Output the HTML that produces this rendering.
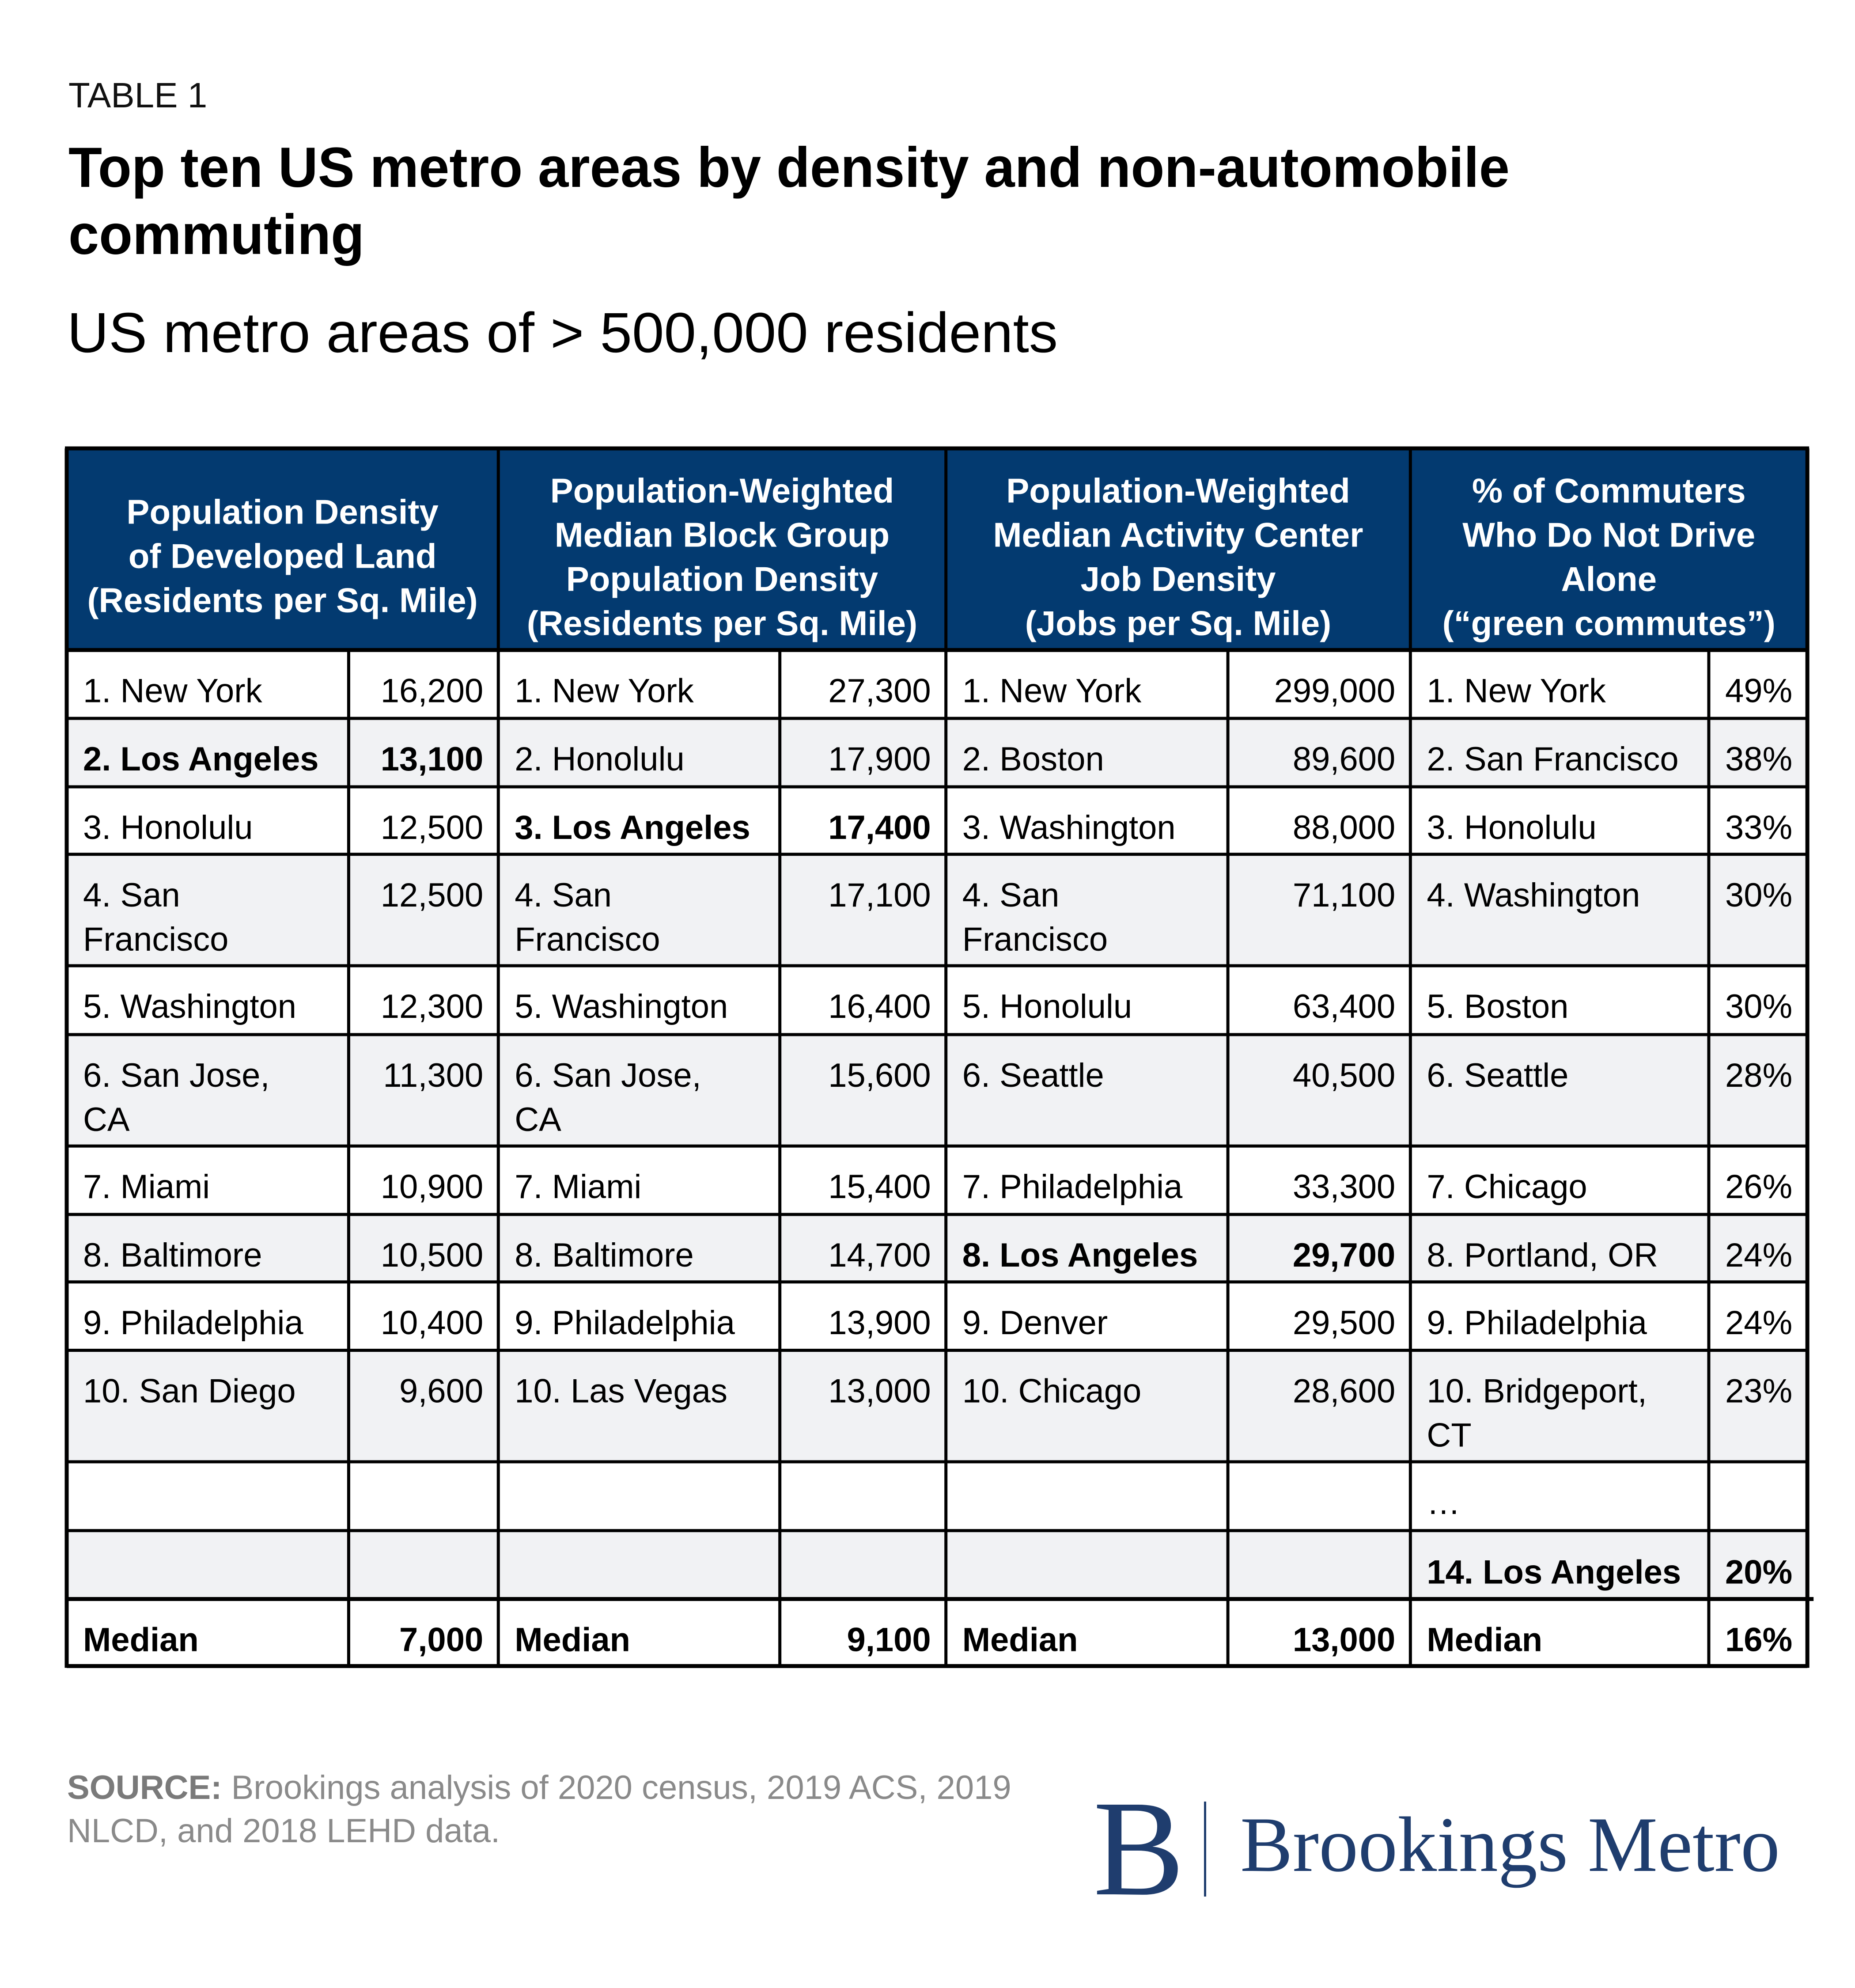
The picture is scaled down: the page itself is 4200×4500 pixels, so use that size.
<!DOCTYPE html>
<html><head><meta charset="utf-8">
<style>
html,body{margin:0;padding:0;background:#fff;}
svg{display:block;}
text{font-family:"Liberation Sans",Arial,sans-serif;}
.serif{font-family:"Liberation Serif",serif;}
</style></head>
<body>
<svg id="chart" width="4200" height="4500" viewBox="0 0 4200 4500" xmlns="http://www.w3.org/2000/svg">
  <rect x="0" y="0" width="4200" height="4500" fill="#fff"/>
  <text x="155" y="243" font-size="80" fill="#111">TABLE 1</text>
  <text x="155" y="423" font-size="128" font-weight="bold" fill="#000" textLength="3263" lengthAdjust="spacingAndGlyphs">Top ten US metro areas by density and non-automobile</text>
  <text x="155" y="575" font-size="128" font-weight="bold" fill="#000" textLength="670" lengthAdjust="spacingAndGlyphs">commuting</text>
  <text x="152" y="797" font-size="128" fill="#000" textLength="2243" lengthAdjust="spacingAndGlyphs">US metro areas of &gt; 500,000 residents</text>
  <g id="table"></g>
  <text x="152" y="4072" font-size="76" fill="#8a8a8a"><tspan font-weight="bold" fill="#7a7a7a">SOURCE:</tspan> Brookings analysis of 2020 census, 2019 ACS, 2019</text>
  <text x="152" y="4170" font-size="76" fill="#8a8a8a">NLCD, and 2018 LEHD data.</text>
  <g>
    <text class="serif" x="2475" y="4288" font-size="310" fill="#1f3d6e">B</text>
    <rect x="2726" y="4078" width="5" height="215" fill="#1f3d6e"/>
    <text class="serif" x="2808" y="4235" font-size="178" fill="#1f3d6e" textLength="1222" lengthAdjust="spacingAndGlyphs">Brookings Metro</text>
  </g>
</svg>
<script>
const headers = [
  ["Population Density","of Developed Land","(Residents per Sq. Mile)"],
  ["Population-Weighted","Median Block Group","Population Density","(Residents per Sq. Mile)"],
  ["Population-Weighted","Median Activity Center","Job Density","(Jobs per Sq. Mile)"],
  ["% of Commuters","Who Do Not Drive","Alone","(\u201Cgreen commutes\u201D)"]
];
const names1 = ["1. New York","2. Los Angeles","3. Honolulu","4. San|Francisco","5. Washington","6. San Jose,|CA","7. Miami","8. Baltimore","9. Philadelphia","10. San Diego","",""];
const values1 = ["16,200","13,100","12,500","12,500","12,300","11,300","10,900","10,500","10,400","9,600","",""];
const names2 = ["1. New York","2. Honolulu","3. Los Angeles","4. San|Francisco","5. Washington","6. San Jose,|CA","7. Miami","8. Baltimore","9. Philadelphia","10. Las Vegas","",""];
const values2 = ["27,300","17,900","17,400","17,100","16,400","15,600","15,400","14,700","13,900","13,000","",""];
const names3 = ["1. New York","2. Boston","3. Washington","4. San|Francisco","5. Honolulu","6. Seattle","7. Philadelphia","8. Los Angeles","9. Denver","10. Chicago","",""];
const values3 = ["299,000","89,600","88,000","71,100","63,400","40,500","33,300","29,700","29,500","28,600","",""];
const names4 = ["1. New York","2. San Francisco","3. Honolulu","4. Washington","5. Boston","6. Seattle","7. Chicago","8. Portland, OR","9. Philadelphia","10. Bridgeport,|CT","\u2026","14. Los Angeles"];
const values4 = ["49%","38%","33%","30%","30%","28%","26%","24%","24%","23%","","20%"];
const medians = ["7,000","9,100","13,000","16%"];

const NS = "http://www.w3.org/2000/svg";
const g = document.getElementById("table");
const SX = x => 151 + (x-151)*1.0054;
const SY = y => 1015 + (y-1009)*1.0052;
const colX = [151, 786, 1123, 1757, 2131, 2766, 3177, 3849, 4071].map(SX);
const rowY = [1463,1617,1771,1923,2174,2329,2580,2734,2886,3040,3291,3446,3600,3751].map(SY);
const tableTop = SY(1009);
const shaded = [false,true,false,true,false,true,false,true,false,true,false,true,false];
function el(tag, attrs){ const e=document.createElementNS(NS,tag); for(const k in attrs) e.setAttribute(k,attrs[k]); g.appendChild(e); return e; }

const hb = el("rect",{x:colX[0],y:tableTop,width:colX[8]-colX[0],height:rowY[0]-tableTop,fill:"#033a70"});


for(let r=0;r<13;r++){
  const rr = el("rect",{x:colX[0],y:rowY[r],width:colX[8]-colX[0],height:rowY[r+1]-rowY[r],fill:shaded[r]?"#f1f2f4":"#ffffff"});
  
  
}
headers.forEach((lines,i)=>{
  const cx=(colX[i*2]+colX[i*2+2])/2;
  const startC = lines.length===3 ? SY(1151) : SY(1103);
  lines.forEach((ln,j)=>{
    const t = el("text",{x:cx,y:startC+j*100+28,"font-size":78,"font-weight":"bold",fill:"#fff","text-anchor":"middle"});
    t.textContent=ln;
    
    
  });
});
const nameCols=[names1,names2,names3,names4], valCols=[values1,values2,values3,values4];
const boldSet = {"2. Los Angeles":1,"3. Los Angeles":1,"8. Los Angeles":1,"14. Los Angeles":1};
for(let c=0;c<4;c++){
  for(let r=0;r<13;r++){
    let nm, vl, bold;
    if(r<12){ nm=nameCols[c][r]; vl=valCols[c][r]; bold=!!boldSet[nm]; }
    else { nm="Median"; vl=medians[c]; bold=true; }
    const lines = nm.split("|");
    const by = r===11 ? rowY[r]+120 : rowY[r]+118;
    lines.forEach((ln,j)=>{
      if(!ln) return;
      const t=el("text",{x:colX[c*2]+37,y:by+j*100,"font-size":76,fill:"#000","font-weight":bold?"bold":"normal"});
      t.textContent=ln;
      
      
    });
    if(vl){
      const t=el("text",{x:colX[c*2+2]-34,y:by,"font-size":76,fill:"#000","text-anchor":"end","font-weight":bold?"bold":"normal"});
      t.textContent=vl;
      
      
    }
  }
}
for(let r=0;r<rowY.length;r++){
  const w = (r===0||r===12||r===13)?9:7;
  const x2 = r===12 ? colX[8]+14 : colX[8];
  const ln=el("line",{x1:colX[0],x2:x2,y1:rowY[r],y2:rowY[r],stroke:"#000","stroke-width":w});
  
  
}
const tl=el("line",{x1:colX[0]-4,x2:colX[8]+4,y1:tableTop,y2:tableTop,stroke:"#000","stroke-width":9});


for(let c=0;c<colX.length;c++){
  const isGroup = c%2===0;
  const y1 = isGroup ? tableTop : rowY[0];
  const w = (c===0||c===8)?9:7;
  const ln=el("line",{x1:colX[c],x2:colX[c],y1:y1,y2:rowY[13]+4,stroke:"#000","stroke-width":w});
  
  
}
</script>
</body></html>
